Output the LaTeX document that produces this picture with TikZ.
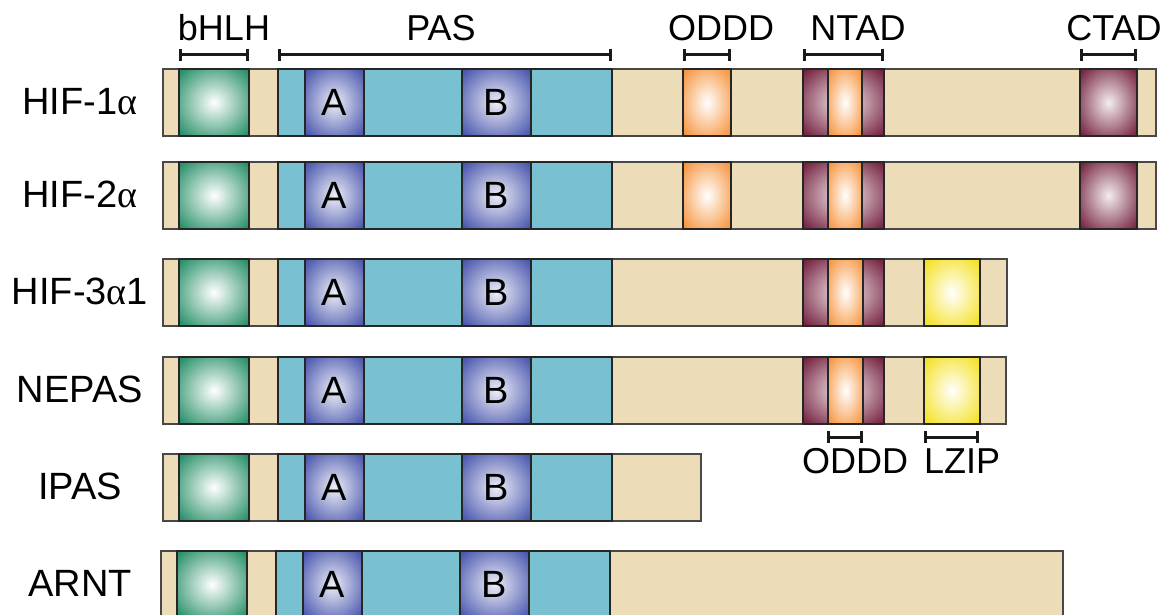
\documentclass[tikz,border=0pt]{standalone}
\usepackage{fontspec}
\setmainfont{Liberation Sans}
\newfontfamily\greekfont{Liberation Serif}
\usepackage{tikz}
\usetikzlibrary{arrows.meta}

\definecolor{tanfill}{RGB}{236,221,184}
\definecolor{pasfill}{RGB}{121,193,208}
\definecolor{bhlhgreen}{RGB}{36,142,102}
\definecolor{pasblue}{RGB}{70,84,172}
\definecolor{odddorange}{RGB}{246,146,58}
\definecolor{tadmaroon}{RGB}{116,32,62}
\definecolor{lzipyellow}{RGB}{244,224,30}
\definecolor{edgegray}{RGB}{72,72,72}

% radial glow: white core, domain colour reached near the corners
\colorlet{glowin}{white}
\colorlet{glowout}{black}
\pgfdeclareradialshading[glowin,glowout]{boxglow}{\pgfpointorigin}{%
  color(0bp)=(glowin); color(34bp)=(glowout); color(50bp)=(glowout)}

\begin{document}
\begin{tikzpicture}[x=1pt, y=-1pt,
        bar/.style={draw=edgegray, fill=tanfill, line width=1.5pt},
        pasregion/.style={draw=black!85, fill=pasfill, line width=1.3pt},
        glow/.style 2 args={/utils/exec={\colorlet{glowin}{#1}\colorlet{glowout}{#2}},
                            shade, shading=boxglow, draw=black!85, line width=1.4pt},
        letter/.style={font=\fontsize{38}{38}\selectfont, inner sep=0pt},
        rowname/.style={font=\fontsize{38}{38}\selectfont, anchor=base, inner sep=0pt},
        domname/.style={font=\fontsize{36}{36}\selectfont, anchor=base, inner sep=0pt},
        spanline/.style={{Bar[width=12pt]}-{Bar[width=12pt]}, line width=3pt, draw=black!90},
    ]
    \useasboundingbox (0,0) rectangle (1172,615);

    % Common layout of every protein: bHLH, PAS with A and B repeats
    \foreach \top/\stop/\dx/\id/\name in {
            69/1156/0/hifone/{HIF-1{\greekfont α}},
            162/1156/0/hiftwo/{HIF-2{\greekfont α}},
            259/1007/0/hifthree/{HIF-3{\greekfont α}1},
            357/1006/0/nepas/{NEPAS},
            454/701/0/ipas/{IPAS},
            551/1065/-2/arnt/{ARNT}} {
        \node[rowname] (\id-name) at (80,\top+45) {\name};
        \begin{scope}[xshift=\dx pt]
            \draw[bar] (163,\top) rectangle (\stop,\top+67);
            \draw[pasregion] (278,\top) rectangle (612,\top+67);
            \draw[glow={white}{bhlhgreen}] (179,\top) rectangle (249,\top+67);
            \draw[glow={white!90!pasblue}{pasblue}] (305,\top) rectangle (364,\top+67);
            \draw[glow={white!90!pasblue}{pasblue}] (462,\top) rectangle (531,\top+67);
            \node[letter] (\id-a) at (334.5,\top+33.5) {A};
            \node[letter] (\id-b) at (496.5,\top+33.5) {B};
        \end{scope}
    }

    % HIF-1a and HIF-2a: ODDD, NTAD and CTAD
    \foreach \top in {69,162} {
        \draw[glow={white}{odddorange}] (683,\top) rectangle (731,\top+67);
        \draw[glow={white!92!tadmaroon}{tadmaroon}] (803,\top) rectangle (884,\top+67);
        \draw[glow={white}{odddorange}] (828,\top) rectangle (862,\top+67);
        \draw[glow={white!92!tadmaroon}{tadmaroon}] (1080,\top) rectangle (1137,\top+67);
    }

    % HIF-3a1 and NEPAS: NTAD and leucine zipper
    \foreach \top in {259,357} {
        \draw[glow={white!92!tadmaroon}{tadmaroon}] (803,\top) rectangle (884,\top+67);
        \draw[glow={white}{odddorange}] (828,\top) rectangle (863,\top+67);
        \draw[glow={white}{lzipyellow}] (924,\top) rectangle (980,\top+67);
    }

    % Domain spans above the first row
    \draw[spanline] (179,55) -- (249,55);
    \draw[spanline] (278,55) -- (612,55);
    \draw[spanline] (683,55) -- (731,55);
    \draw[spanline] (803,55) -- (884,55);
    \draw[spanline] (1080,55) -- (1137,55);
    \node[domname] (bhlh) at (224,41) {bHLH};
    \node[domname] (pas) at (441,41) {PAS};
    \node[domname] (oddd) at (721,41) {ODDD};
    \node[domname] (ntad) at (858,41) {NTAD};
    \node[domname] (ctad) at (1114,41) {CTAD};

    % Domain spans below NEPAS
    \draw[spanline] (827,437) -- (863,437);
    \draw[spanline] (924,437) -- (979,437);
    \node[domname] (oddd-low) at (855,473) {ODDD};
    \node[domname] (lzip) at (962,473) {LZIP};
\end{tikzpicture}
\end{document}
